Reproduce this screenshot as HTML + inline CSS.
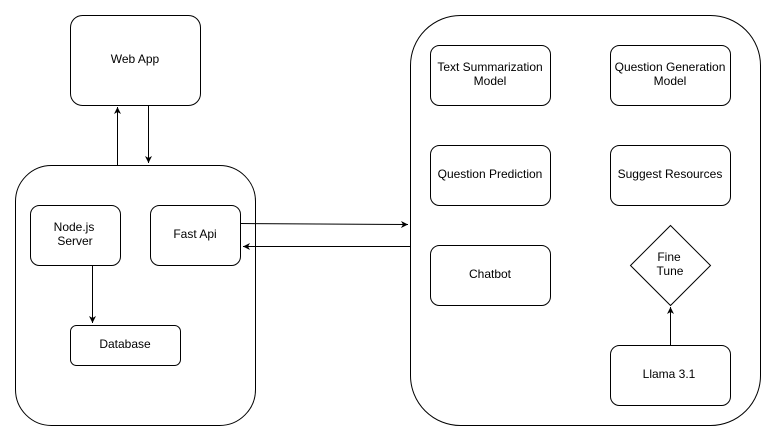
<!DOCTYPE html>
<html><head><meta charset="utf-8"><style>html,body{margin:0;padding:0;background:#fff;width:776px;height:441px;overflow:hidden}</style></head>
<body>
<svg width="776" height="441" viewBox="0 0 776 441" xmlns="http://www.w3.org/2000/svg" font-family="Liberation Sans, Arial, sans-serif" font-size="12" text-anchor="middle">
<defs><marker id="a" markerWidth="8" markerHeight="8" refX="7" refY="4" orient="auto" markerUnits="userSpaceOnUse"><path d="M0,0.5 L7,4 L0,7.5 L2,4 Z" fill="#000"/></marker></defs>
<g fill="#fff" stroke="#000" stroke-width="1">
<rect x="70.5" y="15.5" width="130" height="90" rx="12"/>
<rect x="15.5" y="165.5" width="240" height="260" rx="36"/>
<rect x="30.5" y="205.5" width="90" height="60" rx="9"/>
<rect x="150.5" y="205.5" width="90" height="60" rx="9"/>
<rect x="70.5" y="325.5" width="110" height="40" rx="6"/>
<rect x="410.5" y="15.5" width="350" height="410" rx="50"/>
<rect x="430.5" y="45.5" width="120" height="60" rx="9"/>
<rect x="610.5" y="45.5" width="120" height="60" rx="9"/>
<rect x="430.5" y="145.5" width="120" height="60" rx="9"/>
<rect x="610.5" y="145.5" width="120" height="60" rx="9"/>
<rect x="430.5" y="245.5" width="120" height="60" rx="9"/>
<rect x="610.5" y="345.5" width="120" height="60" rx="9"/>
<path d="M670.5,225.5 L710.5,265.5 L670.5,305.5 L630.5,265.5 Z"/>
</g>
<g stroke="#000" stroke-width="1" fill="none">
<line x1="117.5" y1="165" x2="117.5" y2="107" marker-end="url(#a)"/>
<line x1="148.5" y1="105" x2="148.5" y2="163" marker-end="url(#a)"/>
<line x1="92.5" y1="266" x2="92.5" y2="323" marker-end="url(#a)"/>
<line x1="241" y1="223.5" x2="408" y2="224.5" marker-end="url(#a)"/>
<line x1="410" y1="246.5" x2="243" y2="246.5" marker-end="url(#a)"/>
<line x1="670.5" y1="345" x2="670.5" y2="307" marker-end="url(#a)"/>
</g>
<g fill="#000">
<text x="135" y="63">Web App</text>
<text x="74" y="231">Node.js</text><text x="75" y="245">Server</text>
<text x="195" y="238">Fast Api</text>
<text x="125" y="348">Database</text>
<text x="490" y="71">Text Summarization</text><text x="490" y="85">Model</text>
<text x="670" y="71">Question Generation</text><text x="670" y="85">Model</text>
<text x="490" y="178">Question Prediction</text>
<text x="670" y="178">Suggest Resources</text>
<text x="490" y="278">Chatbot</text>
<text x="669" y="261">Fine</text><text x="670" y="275">Tune</text>
<text x="669" y="378">Llama 3.1</text>
</g>
</svg>
</body></html>
